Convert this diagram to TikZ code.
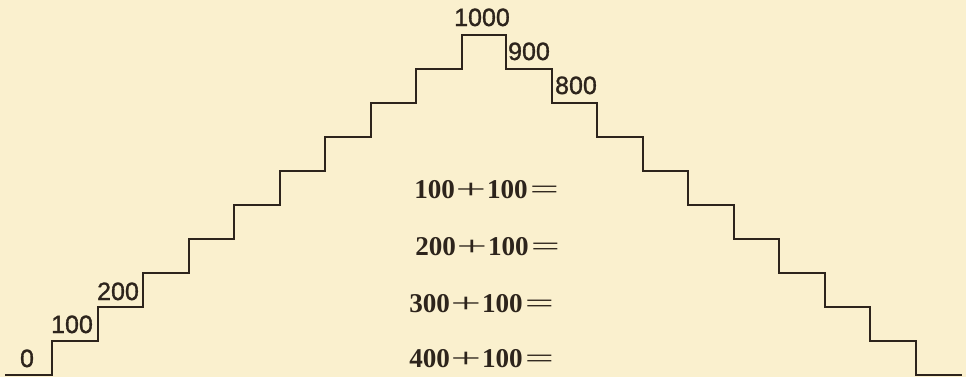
\documentclass[tikz,border=0pt]{standalone}
\usepackage{fontspec}
\setmainfont{Liberation Serif}
\newfontfamily\labelfont[FakeBold=1.2]{Liberation Sans}
\definecolor{paper}{RGB}{250,240,206}
\definecolor{ink}{RGB}{45,36,28}
\tikzset{
  stairline/.style={draw=ink, line width=1.6pt, line join=miter},
  numlabel/.style={text=ink, inner sep=0pt, anchor=base, font=\labelfont\fontsize{17.8}{20}\selectfont},
  sumline/.style={text=ink, inner sep=0pt, anchor=base west, font=\bfseries\fontsize{19.3}{22}\selectfont}
}
\newcommand{\wideplus}{\kern0.5pt\scalebox{2}[1]{\mdseries+}\kern0.5pt}
\newcommand{\wideeq}{\kern1.5pt\scalebox{1.9}[1]{\mdseries=}}
\begin{document}
\begin{tikzpicture}[x=0.025cm, y=-0.025cm]
    % Hintergrund
    \useasboundingbox (0,0) rectangle (966,377);
    \fill[paper] (0,0) rectangle (966,377);
    % Treppe
    \draw[stairline] (5,375) -- (52,375) -- (52,341) -- (98,341) -- (98,307)
      -- (143,307) -- (143,273) -- (189,273) -- (189,239) -- (234,239)
      -- (234,205) -- (280,205) -- (280,171) -- (325,171) -- (325,137)
      -- (371,137) -- (371,103) -- (416,103) -- (416,69) -- (462,69)
      -- (462,35) -- (506,35) -- (506,69) -- (552,69) -- (552,103)
      -- (597,103) -- (597,137) -- (643,137) -- (643,171) -- (688,171)
      -- (688,205) -- (734,205) -- (734,239) -- (779,239) -- (779,273)
      -- (825,273) -- (825,307) -- (870,307) -- (870,341) -- (916,341)
      -- (916,375) -- (962,375);
    % Stufenzahlen
    \node[numlabel] (lab0) at (27,367) {0};
    \node[numlabel] (lab100) at (72,333) {100};
    \node[numlabel] (lab200) at (118,300) {200};
    \node[numlabel] (lab1000) at (482,26) {1000};
    \node[numlabel] (lab900) at (529,60) {900};
    \node[numlabel] (lab800) at (576,94) {800};
    % Aufgaben
    \node[sumline] (sumA) at (414,198) {100\wideplus100\wideeq};
    \node[sumline] (sumB) at (415,255) {200\wideplus100\wideeq};
    \node[sumline] (sumC) at (409,312) {300\wideplus100\wideeq};
    \node[sumline] (sumD) at (409,367) {400\wideplus100\wideeq};
\end{tikzpicture}
\end{document}
